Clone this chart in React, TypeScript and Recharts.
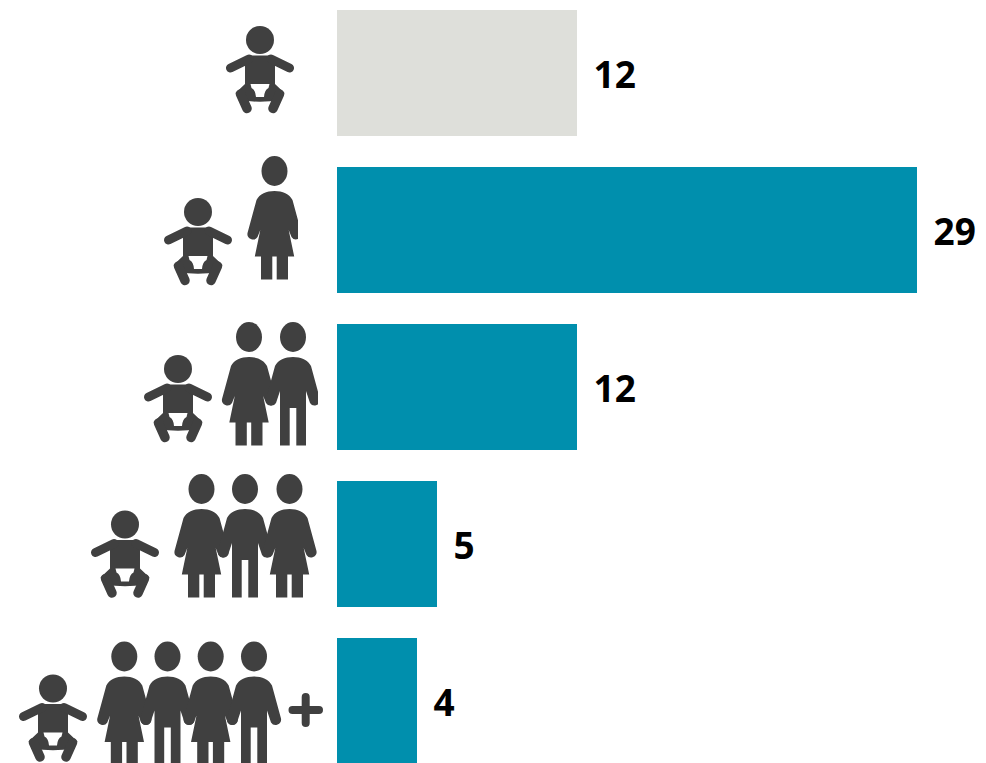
import { BarChart, Bar, Cell, LabelList, XAxis, YAxis } from "recharts";

// Household sizes and how many respondents fall in each
const householdSizes = ["1", "2", "3", "4", "5+"];
const respondents = [12, 29, 12, 5, 4];

const tableData = householdSizes.map((size, i) => ({ size, count: respondents[i] }));

const ICON_COLOR = "#404040";
const SOLO_COLOR = "#DEDFDA";
const BAR_COLOR = "#008FAD";

// Figure outlines, origin at the centre of the head
const WOMAN_BODY =
  "M0 20 C8 20 15 23 18 29 L27 62 A5.5 5.5 0 0 1 17 66 L14.2 59 L19.7 85.5 L13.5 85.5 L13.5 108.5 L2.2 108.5 L2.2 85.5 L-2.2 85.5 L-2.2 108.5 L-13.5 108.5 L-13.5 85.5 L-19.7 85.5 L-14.2 59 L-17 66 A5.5 5.5 0 0 1 -27 62 L-18 29 C-15 23 -8 20 0 20 Z";
const MAN_BODY =
  "M0 20 C8 20 15 23 18 29 L27 62 A5.5 5.5 0 0 1 17 66 L13 54 L13 108.5 L3.3 108.5 L3.3 71 L-3.3 71 L-3.3 108.5 L-13 108.5 L-13 54 L-17 66 A5.5 5.5 0 0 1 -27 62 L-18 29 C-15 23 -8 20 0 20 Z";

function Baby({ x, y }: { x: number; y: number }) {
  return (
    <g transform={`translate(${x} ${y})`}>
      <circle r={14} fill={ICON_COLOR} />
      <path
        d="M-11.5 15.5 L11.5 15.5 L15 18 L15 44 L24.5 53 L20 60 Q0 63.5 -20 60 L-24.5 53 L-15 44 L-15 18 Z"
        fill={ICON_COLOR}
      />
      <g fill="none" stroke={ICON_COLOR} strokeLinecap="round" strokeLinejoin="round">
        <path d="M-11 19 L-29.5 28 M11 19 L29.5 28" strokeWidth={9} />
        <path d="M-19.5 54 L-13 68.5 M19.5 54 L13 68.5" strokeWidth={9.5} />
      </g>
      <path d="M-9.5 44 L9.5 44 L8.5 48 Q4.5 50 4 57 L-4 57 Q-4.5 50 -8.5 48 Z" fill="#fff" />
    </g>
  );
}

function Adult({ x, y, kind }: { x: number; y: number; kind: "w" | "m" }) {
  return (
    <g transform={`translate(${x} ${y})`} fill={ICON_COLOR}>
      <ellipse rx={13} ry={15} />
      <path d={kind === "w" ? WOMAN_BODY : MAN_BODY} />
    </g>
  );
}

// Placement of each row's figures, measured from the vertical centre of its band
const ROW_FIGURES = [
  { baby: [260, -32.5], adults: [], adultY: 0, clipX: 400 },
  { baby: [198, -17.5], adults: [[274.5, "w"]], adultY: -58.5, clipX: 298 },
  { baby: [178, -17.5], adults: [[249, "w"], [293, "m"]], adultY: -49.5, clipX: 318 },
  { baby: [125, -19], adults: [[201.5, "w"], [245, "m"], [289.5, "w"]], adultY: -54.5, clipX: 317 },
  { baby: [53, -12], adults: [[124.3, "w"], [167.5, "m"], [210.7, "w"], [254, "m"]], adultY: -44, clipX: 400 },
] as { baby: number[]; adults: [number, "w" | "m"][]; adultY: number; clipX: number }[];

function FamilyTick(props: any) {
  const { y, payload } = props;
  const row = ROW_FIGURES[payload.index];
  const clipId = `family-clip-${payload.index}`;
  return (
    <g transform={`translate(0 ${y})`}>
      <clipPath id={clipId}>
        <rect x={0} y={-90} width={row.clipX} height={180} />
      </clipPath>
      <g clipPath={`url(#${clipId})`}>
        <Baby x={row.baby[0]} y={row.baby[1]} />
        {row.adults.map(([ax, kind]) => (
          <Adult key={ax} x={ax} y={row.adultY} kind={kind} />
        ))}
      </g>
      {payload.index === 4 && (
        <path
          d="M292.5 9.5 L319 9.5 M305.7 -3.5 L305.7 22.5"
          stroke={ICON_COLOR}
          strokeWidth={8}
          strokeLinecap="round"
          fill="none"
        />
      )}
    </g>
  );
}

function CountLabel(props: any) {
  const { x, y, width, height, value } = props;
  return (
    <text
      x={x + width + 16.5}
      y={y + height / 2 + 15}
      fill="#000"
      fontFamily="Open Sans"
      fontWeight={700}
      fontSize={37}
    >
      {value}
    </text>
  );
}

export default function App() {
  return (
    <div style={{ position: "absolute", left: 0, top: 0, width: 986, height: 763, overflow: "hidden" }}>
      <div style={{ position: "absolute", left: 0, top: -10 }}>
        <BarChart
          width={986}
          height={800}
          layout="vertical"
          data={tableData}
          margin={{ top: 4, right: 9, bottom: 11, left: 0 }}
        >
          <XAxis type="number" domain={[0, 32]} hide />
          <YAxis
            type="category"
            dataKey="size"
            width={337}
            interval={0}
            axisLine={false}
            tickLine={false}
            tick={FamilyTick}
          />
          <Bar dataKey="count" barSize={126} isAnimationActive={false}>
            {tableData.map((d, i) => (
              <Cell key={d.size} fill={i === 0 ? SOLO_COLOR : BAR_COLOR} />
            ))}
            <LabelList dataKey="count" content={CountLabel} />
          </Bar>
        </BarChart>
      </div>
    </div>
  );
}
